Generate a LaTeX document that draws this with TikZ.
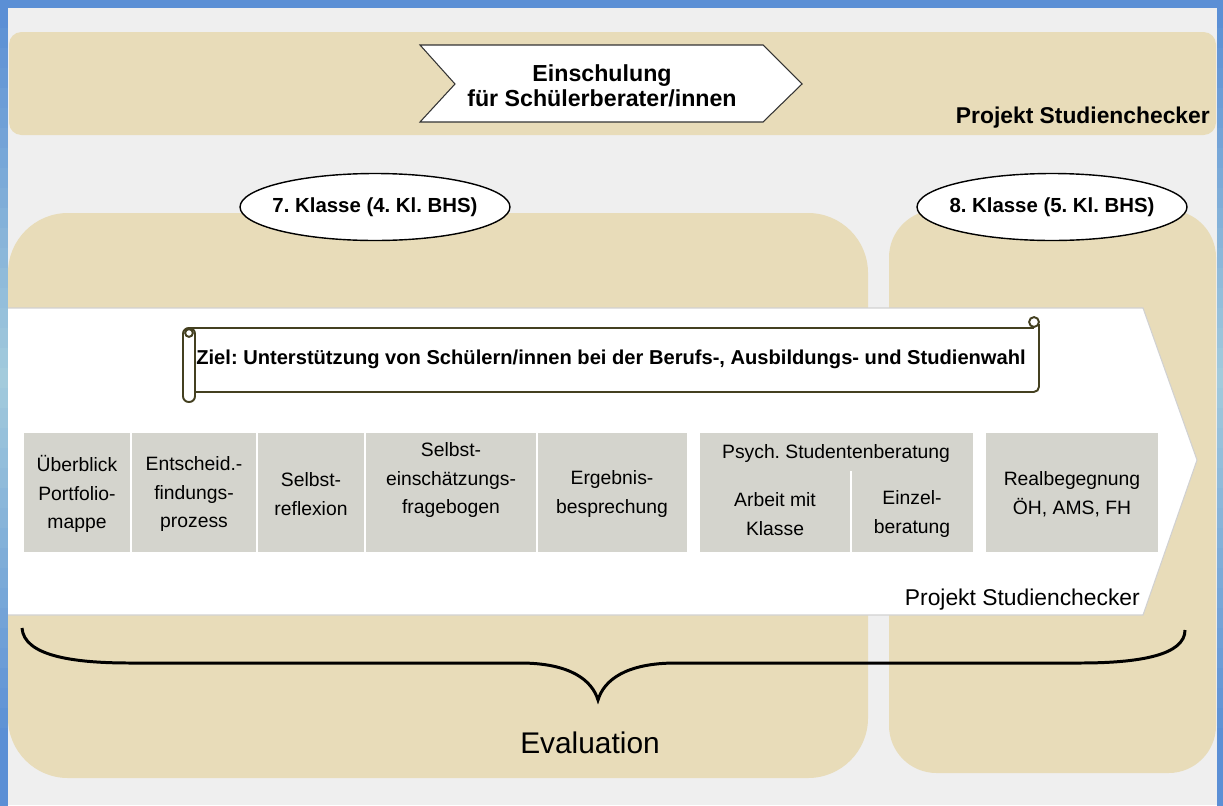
\documentclass[tikz,border=0pt]{standalone}
\usepackage{fontspec}
\setmainfont{Liberation Sans}
\frenchspacing
\definecolor{C0}{RGB}{91,143,213}
\definecolor{C1}{RGB}{163,203,220}
\definecolor{C2}{RGB}{239,239,239}
\definecolor{C3}{RGB}{232,220,185}
\definecolor{C4}{RGB}{212,212,205}
\definecolor{C5}{RGB}{68,64,32}
\tikzset{
  boxtxt/.style={align=center,inner sep=0pt,font=\fontsize{11}{16.4}\selectfont},
  klasse/.style={draw,fill=white,line width=0.8pt},
  klassetxt/.style={font=\bfseries\fontsize{11.6}{14}\selectfont},
  scroll/.style={draw=C5,line width=1.1pt},
}

\begin{document}
\begin{tikzpicture}[x=0.02cm,y=-0.02cm]
  \useasboundingbox (0,0) rectangle (1223,805);

  % Frame and page.
  \fill[C0] (0,0) rectangle (1223,805);
  \foreach \i in {0,...,39} {
    \pgfmathtruncatemacro\p{100*min(1,abs(\i-18)/18)}
    \fill[C0!\p!C1] (0,{8+\i*20}) rectangle (8,{29+\i*20});
    \fill[C0!\p!C1] (1217,{8+\i*20}) rectangle (1223,{29+\i*20});
  }
  \fill[C2] (8,8) rectangle (1217,805);

  % Top band with the training arrow.
  \fill[C3,rounded corners=0.25cm] (9,32) rectangle (1216,135);
  \filldraw[fill=white,draw=black!80,line width=0.6pt] (420,45) -- (763,45) -- (802,84)
    -- (763,122) -- (420,122) -- (455,84) -- cycle;
  \node[align=center,font=\bfseries\fontsize{13.2}{14.2}\selectfont] (einsch) at (602,86)
    {Einschulung\\für Schülerberater/innen};
  \draw (1216,123) node[anchor=base east,font=\bfseries\fontsize{13}{15}\selectfont] (proj1)
    {Projekt Studienchecker};

  % Class panels.
  \fill[C3,rounded corners=1.2cm] (8,213) rectangle (868,778);
  \fill[C3,rounded corners=0.95cm] (889,210) rectangle (1216,773);
  \draw[klasse] (375,207) ellipse[x radius=2.7cm,y radius=0.67cm];
  \node[klassetxt] (k7) at (375,207) {7. Klasse (4. Kl. BHS)};
  \draw[klasse] (1052,207) ellipse[x radius=2.7cm,y radius=0.67cm];
  \node[klassetxt] (k8) at (1052,207) {8. Klasse (5. Kl. BHS)};

  % White arrow band.
  \filldraw[fill=white,draw=black!18,line width=0.6pt] (8,308) -- (1143,308) -- (1197,460)
    -- (1143,615) -- (8,615);
  \draw (1146,600) node[anchor=east,font=\fontsize{13}{15}\selectfont] (proj2)
    {Projekt Studienchecker};

  % Scroll with the goal.
  \draw[scroll] (189,328) -- (1034,328);
  \draw[scroll,rounded corners=3pt] (195,392) -- (1039,392) -- (1039,324);
  \draw[scroll] (1034,322) circle[radius=2.8pt];
  \filldraw[scroll,fill=white,rounded corners=3.3pt] (183,328) rectangle (195,402);
  \draw[scroll] (189,333) circle[radius=2.2pt];
  \node[font=\bfseries\fontsize{11.45}{13}\selectfont] (ziel) at (611,359)
    {Ziel: Unterstützung von Schülern/innen bei der Berufs-, Ausbildungs- und Studienwahl};

  % Steps in class 7.
  \fill[C4] (24,433) rectangle (130,552);
  \node[boxtxt] (s1) at (77,494) {Überblick\\Portfolio-\\mappe};
  \fill[C4] (132,433) rectangle (256,552);
  \node[boxtxt] (s2) at (194,494) {Entscheid.-\\findungs-\\prozess};
  \fill[C4] (258,433) rectangle (364,552);
  \node[boxtxt] (s3) at (311,494) {Selbst-\\reflexion};
  \fill[C4] (366,433) rectangle (536,552);
  \node[boxtxt] (s4) at (451,480) {Selbst-\\einschätzungs-\\fragebogen};
  \fill[C4] (538,433) rectangle (687,552);
  \node[boxtxt] (s5) at (612,494) {Ergebnis-\\besprechung};

  % Counselling, split in two.
  \fill[C4] (700,433) rectangle (973,552);
  \draw[white,line width=1.2pt] (851,471) -- (851,552);
  \node[boxtxt] (s6) at (836,453) {Psych. Studentenberatung};
  \node[boxtxt] (s6a) at (775,514) {Arbeit mit\\Klasse};
  \node[boxtxt] (s6b) at (912,514) {Einzel-\\beratung};

  % Step in class 8.
  \fill[C4] (986,433) rectangle (1158,552);
  \node[boxtxt] (s7) at (1072,494) {Realbegegnung\\ÖH, AMS, FH};

  % Evaluation brace.
  \draw[line width=1.7pt] (22,628) .. controls (24,655) and (70,663) .. (130,663)
    -- (520,663) .. controls (570,663) and (592,680) .. (598,700)
    .. controls (604,680) and (626,663) .. (676,663) -- (1080,663)
    .. controls (1140,663) and (1185,655) .. (1185,630);
  \node[font=\fontsize{17}{20}\selectfont] (eval) at (590,743) {Evaluation};

\end{tikzpicture}
\end{document}
